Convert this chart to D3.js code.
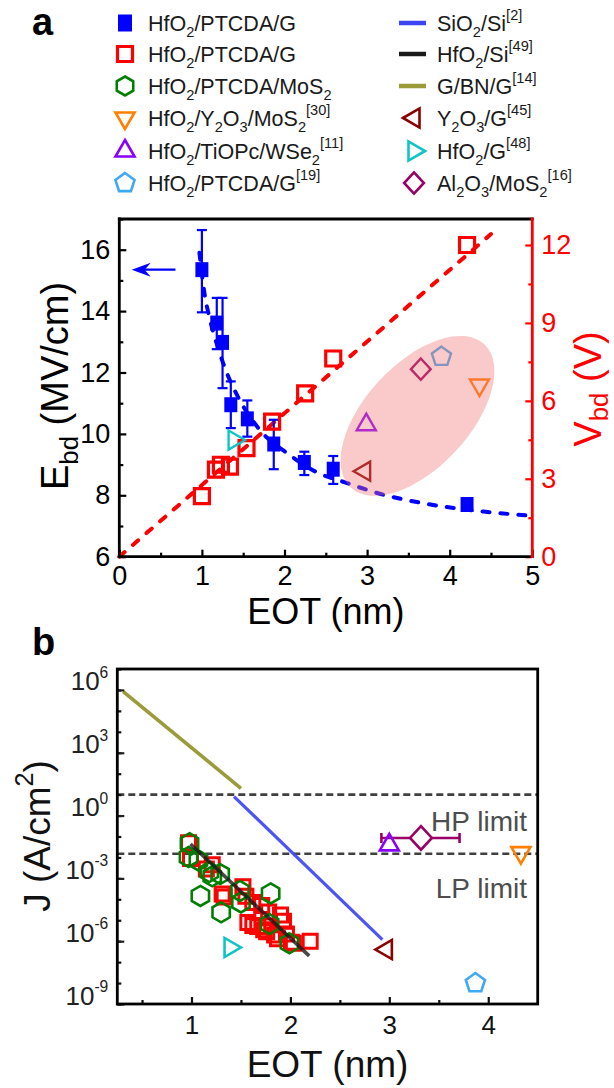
<!DOCTYPE html>
<html>
<head>
<meta charset="utf-8">
<script src="https://cdn.jsdelivr.net/npm/d3@7"></script>
<style>
  html, body { margin: 0; padding: 0; background: #fff; }
  svg { display: block; }
</style>
</head>
<body>
<svg id="chart" width="614" height="1088"></svg>
<script>
// ---------------- Panel a: breakdown field / voltage vs EOT ----------------
// HfO2/PTCDA/G breakdown field (MV/cm), mean with error-bar limits
const ebdEot   = [1.00, 1.18, 1.25, 1.35, 1.55, 1.87, 2.24, 2.59, 4.21];
const ebdMean  = [15.35, 13.61, 12.98, 10.95, 10.49, 9.67, 9.07, 8.85, 7.70];
const ebdUpper = [16.64, 14.43, 14.43, 11.71, 11.09, 10.46, 9.42, 9.28, 7.88];
const ebdLower = [13.96, 12.76, 11.49, 10.19, 9.91, 8.85, 8.66, 8.37, 7.52];
// guide curve through the breakdown-field trend
const ebdTrendEot = [0.97, 1.03, 1.10, 1.22, 1.30, 1.40, 1.68, 2.07, 2.39, 2.70, 3.21, 3.68, 4.41, 5.00];
const ebdTrendVal = [15.9, 14.6, 13.7, 12.6, 12.0, 11.4, 10.2, 9.30, 8.75, 8.45, 8.01, 7.74, 7.47, 7.33];
// HfO2/PTCDA/G breakdown voltage (V)
const vbdEot = [1.00, 1.17, 1.23, 1.34, 1.54, 1.85, 2.25, 2.59, 4.21];
const vbdVal = [2.33, 3.35, 3.54, 3.47, 4.18, 5.20, 6.29, 7.63, 12.00];
// linear guide for the breakdown voltage
const vbdTrendEot = [0, 4.5];
const vbdTrendVal = [0, 12.42];
// literature points plotted on the Vbd axis
const refKeys = ['Y2O3/MoS2', 'TiOPc/WSe2', 'PTCDA/G19', 'Y2O3/G', 'HfO2/G', 'Al2O3/MoS2'];
const refEotA = [4.36, 2.99, 3.90, 2.97, 1.39, 3.65];
const refVbdA = [6.61, 5.08, 7.70, 3.29, 4.49, 7.22];
// highlighted region (centre in EOT / Vbd)
const highlightEot = 3.61, highlightVbd = 5.42;

// ---------------- Panel b: leakage current density vs EOT ----------------
const jPtcdaGEot = [0.97, 0.99, 1.15, 1.21, 1.31, 1.33, 1.52, 1.55, 1.57, 1.62, 1.62, 1.67,
                    1.71, 1.73, 1.76, 1.78, 1.84, 1.87, 1.90, 1.93, 1.96, 2.01, 2.03, 2.20];
const jPtcdaGVal = [5.0e-2, 8.9e-3, 2.8e-3, 4.5e-3, 1.8e-4, 1.3e-4, 4.0e-4, 1.4e-4, 7.9e-6, 7.1e-5, 5.6e-6, 5.0e-6,
                    5.0e-5, 3.5e-6, 2.8e-6, 2.5e-5, 2.0e-6, 1.3e-6, 1.8e-5, 8.9e-6, 2.2e-6, 8.9e-7, 7.9e-7, 1.0e-6];
const jMoS2Eot = [0.98, 0.97, 1.07, 1.18, 1.21, 1.29, 1.09, 1.30, 1.49, 1.50, 1.80, 1.79, 1.99];
const jMoS2Val = [4.8e-2, 1.05e-2, 7.2e-3, 2.0e-3, 1.26e-3, 1.6e-3, 1.45e-4, 2.4e-5, 2.5e-4, 7.1e-5, 1.9e-4, 6.6e-6, 7.9e-7];
const lineSiO2Eot = [1.43, 2.93];   const lineSiO2J = [8.1, 1.2e-6];
const lineHfO2SiEot = [0.99, 2.19]; const lineHfO2SiJ = [4.4e-2, 2.0e-7];
const lineGBNGEot = [0.31, 1.50];   const lineGBNGJ = [8.3e5, 20];
const refEotB = [4.33, 3.00, 3.87, 2.97, 1.39, 3.32];
const refJB   = [1.7e-2, 4.0e-2, 1.0e-8, 4.0e-7, 5.0e-7, 8.5e-2];
const al2o3EotRange = [2.92, 3.71];
const hpLimit = 10, lpLimit = 1.5e-2;

// ---------------- tick values & legend labels ----------------
const eotTicksA = [0, 1, 2, 3, 4, 5];
const ebdTicks = [6, 8, 10, 12, 14, 16];
const vbdTicks = [0, 3, 6, 9, 12];
const eotTicksB = [1, 2, 3, 4];
const jTicks = [1e-9, 1e-6, 1e-3, 1e0, 1e3, 1e6];
const legendCol1 = ['HfO_{2}/PTCDA/G', 'HfO_{2}/PTCDA/G', 'HfO_{2}/PTCDA/MoS_{2}',
                    'HfO_{2}/Y_{2}O_{3}/MoS_{2}^{[30]}', 'HfO_{2}/TiOPc/WSe_{2}^{[11]}', 'HfO_{2}/PTCDA/G^{[19]}'];
const legendCol2 = ['SiO_{2}/Si^{[2]}', 'HfO_{2}/Si^{[49]}', 'G/BN/G^{[14]}',
                    'Y_{2}O_{3}/G^{[45]}', 'HfO_{2}/G^{[48]}', 'Al_{2}O_{3}/MoS_{2}^{[16]}'];

// ---------------- styles ----------------
const FONT = '"Liberation Sans", Arial, Helvetica, sans-serif';
const C = {
  blue: '#0000ff', red: '#ff0000', green: '#007f00', orange: '#ff7f00', purple: '#8800ff',
  sky: '#3faaf2', darkred: '#8b0000', cyan: '#10c4c4', plum: '#990066',
  sio2: '#3d45f2', hfo2si: '#1a1a1a', gbng: '#9b9b3a', dash: '#404040'
};
const refStyle = {
  'Y2O3/MoS2':  { shape: 'triDown',  color: C.orange },
  'TiOPc/WSe2': { shape: 'triUp',    color: C.purple },
  'PTCDA/G19':  { shape: 'pentagon', color: C.sky },
  'Y2O3/G':     { shape: 'triLeft',  color: C.darkred },
  'HfO2/G':     { shape: 'triRight', color: C.cyan },
  'Al2O3/MoS2': { shape: 'diamond',  color: C.plum }
};

function polygon(n, rx, ry, startDeg) {
  const pts = d3.range(n).map(i => {
    const a = (startDeg + i * 360 / n) * Math.PI / 180;
    return [rx * Math.cos(a), ry * Math.sin(a)];
  });
  return 'M' + pts.map(p => p[0].toFixed(2) + ',' + p[1].toFixed(2)).join('L') + 'Z';
}
function sym(shape, s) {
  switch (shape) {
    case 'square':   return `M${-s / 2},${-s / 2}H${s / 2}V${s / 2}H${-s / 2}Z`;
    case 'hexagon':  return polygon(6, s / 2, s / 2, -90);
    case 'triUp':    return polygon(3, s * 0.58, s * 0.58, -90);
    case 'triDown':  return polygon(3, s * 0.58, s * 0.58, 90);
    case 'triLeft':  return polygon(3, s * 0.58, s * 0.58, 180);
    case 'triRight': return polygon(3, s * 0.58, s * 0.58, 0);
    case 'pentagon': return polygon(5, s * 0.53, s * 0.53, -90);
    case 'diamond':  return polygon(4, s * 0.52, s * 0.56, -90);
  }
}
// text with _{sub} and ^{sup} markup
function rich(sel, str, fs, subShift = 0.25, supShift = 0.45, small = 0.68) {
  const re = /([_^])\{([^}]*)\}|([^_^]+)/g;
  let m, shift = 0;
  while ((m = re.exec(str)) !== null) {
    let target, size, content;
    if (m[3] !== undefined) { target = 0; size = fs; content = m[3]; }
    else { target = (m[1] === '_' ? subShift : -supShift) * fs; size = small * fs; content = m[2]; }
    sel.append('tspan').attr('dy', target - shift).attr('font-size', size).text(content);
    shift = target;
  }
}

const svg = d3.select('#chart').attr('font-family', FONT);

// ======================= Panel a =======================
const A = { left: 119.3, right: 532.3, top: 219, bottom: 556.7 };
const xA = d3.scaleLinear().domain([0, 5]).range([A.left, A.right]);
const yE = d3.scaleLinear().domain([6, 17]).range([A.bottom, A.top]);
const yV = d3.scaleLinear().domain([0, 13]).range([A.bottom, A.top]);
const gA = svg.append('g');

// guide lines
gA.append('path')
  .attr('d', d3.line().x((d, i) => xA(vbdTrendEot[i])).y(d => yV(d))(vbdTrendVal))
  .attr('fill', 'none').attr('stroke', C.red).attr('stroke-width', 4)
  .attr('stroke-dasharray', '7,11').attr('stroke-linecap', 'round');
gA.append('path')
  .attr('d', d3.line().curve(d3.curveMonotoneX).x((d, i) => xA(ebdTrendEot[i])).y(d => yE(d))(ebdTrendVal))
  .attr('fill', 'none').attr('stroke', C.blue).attr('stroke-width', 4)
  .attr('stroke-dasharray', '7,11').attr('stroke-linecap', 'round');

// error bars + filled squares
const eb = gA.append('g').attr('stroke', C.blue).attr('stroke-width', 2.2);
ebdEot.forEach((e, i) => {
  const x = xA(e);
  eb.append('line').attr('x1', x).attr('x2', x).attr('y1', yE(ebdUpper[i])).attr('y2', yE(ebdLower[i]));
  [ebdUpper[i], ebdLower[i]].forEach(v =>
    eb.append('line').attr('x1', x - 5).attr('x2', x + 5).attr('y1', yE(v)).attr('y2', yE(v)));
});
gA.append('g').selectAll('path').data(ebdMean).join('path')
  .attr('transform', (d, i) => `translate(${xA(ebdEot[i])},${yE(d)})`)
  .attr('d', `M-6.5,-7.5H6.5V7.5H-6.5Z`).attr('fill', C.blue);

// open red squares (Vbd)
gA.append('g').selectAll('path').data(vbdVal).join('path')
  .attr('transform', (d, i) => `translate(${xA(vbdEot[i])},${yV(d)})`)
  .attr('d', sym('square', 15)).attr('fill', 'none').attr('stroke', C.red).attr('stroke-width', 3.2);

// literature points
gA.append('g').selectAll('path').data(refKeys).join('path')
  .attr('transform', (k, i) => `translate(${xA(refEotA[i])},${yV(refVbdA[i])})`)
  .attr('d', k => sym(refStyle[k].shape, 19))
  .attr('fill', 'none').attr('stroke', k => refStyle[k].color).attr('stroke-width', 2.4);

// highlighted region
gA.append('ellipse')
  .attr('cx', xA(highlightEot)).attr('cy', yV(highlightVbd))
  .attr('rx', 98).attr('ry', 52)
  .attr('transform', `rotate(-47 ${xA(highlightEot)} ${yV(highlightVbd)})`)
  .attr('fill', 'rgb(242,112,112)').attr('fill-opacity', 0.38);

// arrow pointing to the left axis
{
  const ay = yE(ebdMean[0]), x0 = xA(0.68), x1 = xA(0.15);
  gA.append('line').attr('x1', x0).attr('x2', x1 + 8).attr('y1', ay).attr('y2', ay)
    .attr('stroke', C.blue).attr('stroke-width', 2.4);
  gA.append('path').attr('d', `M${x1},${ay}L${x1 + 19},${ay - 7}L${x1 + 13},${ay}L${x1 + 19},${ay + 7}Z`)
    .attr('fill', C.blue);
}

// axes
function styleAxis(g, color, fs) {
  g.select('.domain').remove();
  g.selectAll('line').attr('stroke', color).attr('stroke-width', 2.2);
  g.selectAll('text').attr('fill', color).attr('font-size', fs).attr('font-family', FONT);
}
gA.append('g').attr('transform', `translate(0,${A.bottom})`)
  .call(d3.axisBottom(xA).tickValues(eotTicksA).tickSize(-7).tickPadding(9).tickFormat(d3.format('d')))
  .call(g => styleAxis(g, '#000', 27));
gA.append('g').attr('transform', `translate(0,${A.bottom})`)
  .call(d3.axisBottom(xA).tickValues([0.5, 1.5, 2.5, 3.5, 4.5]).tickSize(-4).tickFormat(''))
  .call(g => styleAxis(g, '#000', 27));
gA.append('g').attr('transform', `translate(${A.left},0)`)
  .call(d3.axisLeft(yE).tickValues(ebdTicks).tickSize(-7).tickPadding(9).tickFormat(d3.format('d')))
  .call(g => styleAxis(g, '#000', 27));
gA.append('g').attr('transform', `translate(${A.left},0)`)
  .call(d3.axisLeft(yE).tickValues([7, 9, 11, 13, 15, 17]).tickSize(-4).tickFormat(''))
  .call(g => styleAxis(g, '#000', 27));
gA.append('g').attr('transform', `translate(${A.right},0)`)
  .call(d3.axisRight(yV).tickValues(vbdTicks).tickSize(-7).tickPadding(9).tickFormat(d3.format('d')))
  .call(g => styleAxis(g, C.red, 27));
gA.append('g').attr('transform', `translate(${A.right},0)`)
  .call(d3.axisRight(yV).tickValues([1.5, 4.5, 7.5, 10.5]).tickSize(-4).tickFormat(''))
  .call(g => styleAxis(g, C.red, 27));

// frame
const frameA = gA.append('g').attr('stroke-width', 2.8).attr('stroke-linecap', 'square');
frameA.append('line').attr('x1', A.left).attr('x2', A.right).attr('y1', A.top).attr('y2', A.top).attr('stroke', '#000');
frameA.append('line').attr('x1', A.left).attr('x2', A.right).attr('y1', A.bottom).attr('y2', A.bottom).attr('stroke', '#000');
frameA.append('line').attr('x1', A.left).attr('x2', A.left).attr('y1', A.top).attr('y2', A.bottom).attr('stroke', '#000');
frameA.append('line').attr('x1', A.right).attr('x2', A.right).attr('y1', A.top).attr('y2', A.bottom).attr('stroke', C.red);

// titles
gA.append('text').attr('x', (A.left + A.right) / 2).attr('y', 624).attr('text-anchor', 'middle')
  .attr('font-size', 36).attr('fill', '#000').text('EOT (nm)');
{
  const t = gA.append('text').attr('transform', 'translate(68,386) rotate(-90)')
    .attr('text-anchor', 'middle').attr('font-size', 38).attr('fill', '#000');
  rich(t, 'E_{bd} (MV/cm)', 38, 0.25);
  const v = gA.append('text').attr('transform', 'translate(601,389) rotate(-90)')
    .attr('text-anchor', 'middle').attr('font-size', 38).attr('fill', C.red);
  rich(v, 'V_{bd} (V)', 38, 0.18);
}
svg.append('text').attr('x', 32).attr('y', 35).attr('font-size', 38).attr('font-weight', 'bold').text('a');

// legend
const legRows = [23, 54, 86, 118, 151, 183];
const col1Marks = [
  { shape: 'square', color: C.blue, fill: true },
  { shape: 'square', color: C.red },
  { shape: 'hexagon', color: C.green },
  { shape: 'triDown', color: C.orange },
  { shape: 'triUp', color: C.purple },
  { shape: 'pentagon', color: C.sky }
];
const col2Marks = [
  { line: C.sio2 }, { line: C.hfo2si }, { line: C.gbng },
  { shape: 'triLeft', color: C.darkred }, { shape: 'triRight', color: C.cyan }, { shape: 'diamond', color: C.plum }
];
const LEG_FS = 21.5;
const leg = svg.append('g');
legendCol1.forEach((lab, i) => {
  const m = col1Marks[i], y = legRows[i];
  if (m.fill) {
    leg.append('path').attr('transform', `translate(125,${y})`).attr('d', 'M-7,-8.5H7V8.5H-7Z').attr('fill', m.color);
  } else {
    const s = m.shape === 'square' ? 15 : 19;
    leg.append('path').attr('transform', `translate(125,${y})`).attr('d', sym(m.shape, s))
      .attr('fill', 'none').attr('stroke', m.color).attr('stroke-width', m.shape === 'square' ? 3.2 : 2.6);
  }
  const t = leg.append('text').attr('x', 148).attr('y', y + 7.5).attr('font-size', LEG_FS).attr('fill', '#1a1a1a');
  rich(t, lab, LEG_FS, 0.3, 0.5, 0.68);
});
legendCol2.forEach((lab, i) => {
  const m = col2Marks[i], y = legRows[i];
  if (m.line) {
    leg.append('line').attr('x1', 399).attr('x2', 426).attr('y1', y).attr('y2', y)
      .attr('stroke', m.line).attr('stroke-width', 4.5);
  } else {
    leg.append('path').attr('transform', `translate(414,${y})`).attr('d', sym(m.shape, 19))
      .attr('fill', 'none').attr('stroke', m.color).attr('stroke-width', 2.6);
  }
  const t = leg.append('text').attr('x', 437).attr('y', y + 7.5).attr('font-size', LEG_FS).attr('fill', '#1a1a1a');
  rich(t, lab, LEG_FS, 0.3, 0.5, 0.68);
});

// ======================= Panel b =======================
const B = { left: 117.3, right: 537.7, top: 669, bottom: 1004 };
const xB = d3.scaleLinear().domain([0.25, 4.5]).range([B.left, B.right]);
const yJ = d3.scaleLog().domain([1e-9, 1e7]).range([B.bottom, B.top]);
const gB = svg.append('g');

// performance limits
[hpLimit, lpLimit].forEach(v =>
  gB.append('line').attr('x1', B.left).attr('x2', B.right).attr('y1', yJ(v)).attr('y2', yJ(v))
    .attr('stroke', C.dash).attr('stroke-width', 2.6).attr('stroke-dasharray', '7,4'));
gB.append('text').attr('x', 527).attr('y', 831).attr('text-anchor', 'end').attr('font-size', 28)
  .attr('fill', '#4d4d4d').text('HP limit');
gB.append('text').attr('x', 527).attr('y', 898).attr('text-anchor', 'end').attr('font-size', 28)
  .attr('fill', '#4d4d4d').text('LP limit');

// data points
gB.append('g').selectAll('path').data(jPtcdaGVal).join('path')
  .attr('transform', (d, i) => `translate(${xB(jPtcdaGEot[i])},${yJ(d)})`)
  .attr('d', sym('square', 14)).attr('fill', 'none').attr('stroke', C.red).attr('stroke-width', 3);
gB.append('g').selectAll('path').data(jMoS2Val).join('path')
  .attr('transform', (d, i) => `translate(${xB(jMoS2Eot[i])},${yJ(d)})`)
  .attr('d', sym('hexagon', 20)).attr('fill', 'none').attr('stroke', C.green).attr('stroke-width', 2.6);

// literature trend lines
const lineB = (xs, ys) => d3.line().x((d, i) => xB(xs[i])).y(d => yJ(d))(ys);
gB.append('path').attr('d', lineB(lineGBNGEot, lineGBNGJ)).attr('stroke', C.gbng).attr('stroke-width', 3.6).attr('fill', 'none');
gB.append('path').attr('d', lineB(lineSiO2Eot, lineSiO2J)).attr('stroke', C.sio2).attr('stroke-width', 3.2)
  .attr('stroke-opacity', 0.92).attr('fill', 'none');
gB.append('path').attr('d', lineB(lineHfO2SiEot, lineHfO2SiJ)).attr('stroke', C.hfo2si).attr('stroke-width', 3.6)
  .attr('stroke-opacity', 0.8).attr('fill', 'none');

// Al2O3/MoS2 EOT range
{
  const iAl = refKeys.indexOf('Al2O3/MoS2'), yy = yJ(refJB[iAl]);
  const eg = gB.append('g').attr('stroke', C.plum).attr('stroke-width', 2.6);
  eg.append('line').attr('x1', xB(al2o3EotRange[0])).attr('x2', xB(al2o3EotRange[1])).attr('y1', yy).attr('y2', yy);
  al2o3EotRange.forEach(e => eg.append('line').attr('x1', xB(e)).attr('x2', xB(e)).attr('y1', yy - 5).attr('y2', yy + 5));
}
gB.append('g').selectAll('path').data(refKeys).join('path')
  .attr('transform', (k, i) => `translate(${xB(refEotB[i])},${yJ(refJB[i])})`)
  .attr('d', k => sym(refStyle[k].shape, k === 'Al2O3/MoS2' ? 21 : 19))
  .attr('fill', k => k === 'Al2O3/MoS2' ? '#fff' : 'none')
  .attr('stroke', k => refStyle[k].color).attr('stroke-width', 2.6);

// axes
gB.append('g').attr('transform', `translate(0,${B.bottom})`)
  .call(d3.axisBottom(xB).tickValues(eotTicksB).tickSize(-7).tickPadding(12).tickFormat(d3.format('d')))
  .call(g => styleAxis(g, '#111', 26));
gB.append('g').attr('transform', `translate(0,${B.bottom})`)
  .call(d3.axisBottom(xB).tickValues([0.5, 1.5, 2.5, 3.5]).tickSize(-4).tickFormat(''))
  .call(g => styleAxis(g, '#111', 26));
gB.append('g').attr('transform', `translate(${B.left},0)`)
  .call(d3.axisLeft(yJ).tickValues(d3.range(-9, 8).map(p => Math.pow(10, p))).tickSize(-4).tickFormat(''))
  .call(g => styleAxis(g, '#111', 26));
gB.append('g').attr('transform', `translate(${B.left},0)`)
  .call(d3.axisLeft(yJ).tickValues(jTicks).tickSize(-7).tickPadding(9).tickFormat(''))
  .call(g => {
    styleAxis(g, '#222', 26);
    g.selectAll('.tick text').each(function (d) {
      const t = d3.select(this).text(null);
      rich(t, '10^{' + Math.round(Math.log10(d)) + '}', 26, 0.25, 0.48, 0.6);
    });
  });
gB.append('rect').attr('x', B.left).attr('y', B.top).attr('width', B.right - B.left).attr('height', B.bottom - B.top)
  .attr('fill', 'none').attr('stroke', '#000').attr('stroke-width', 2.8);

gB.append('text').attr('x', (B.left + B.right) / 2).attr('y', 1077).attr('text-anchor', 'middle')
  .attr('font-size', 37).attr('fill', '#111').text('EOT (nm)');
{
  const t = gB.append('text').attr('transform', 'translate(50,836) rotate(-90)')
    .attr('text-anchor', 'middle').attr('font-size', 37).attr('fill', '#111');
  rich(t, 'J (A/cm^{2})', 37, 0.25, 0.45, 0.68);
}
svg.append('text').attr('x', 32).attr('y', 655).attr('font-size', 38).attr('font-weight', 'bold').text('b');
</script>
</body>
</html>
